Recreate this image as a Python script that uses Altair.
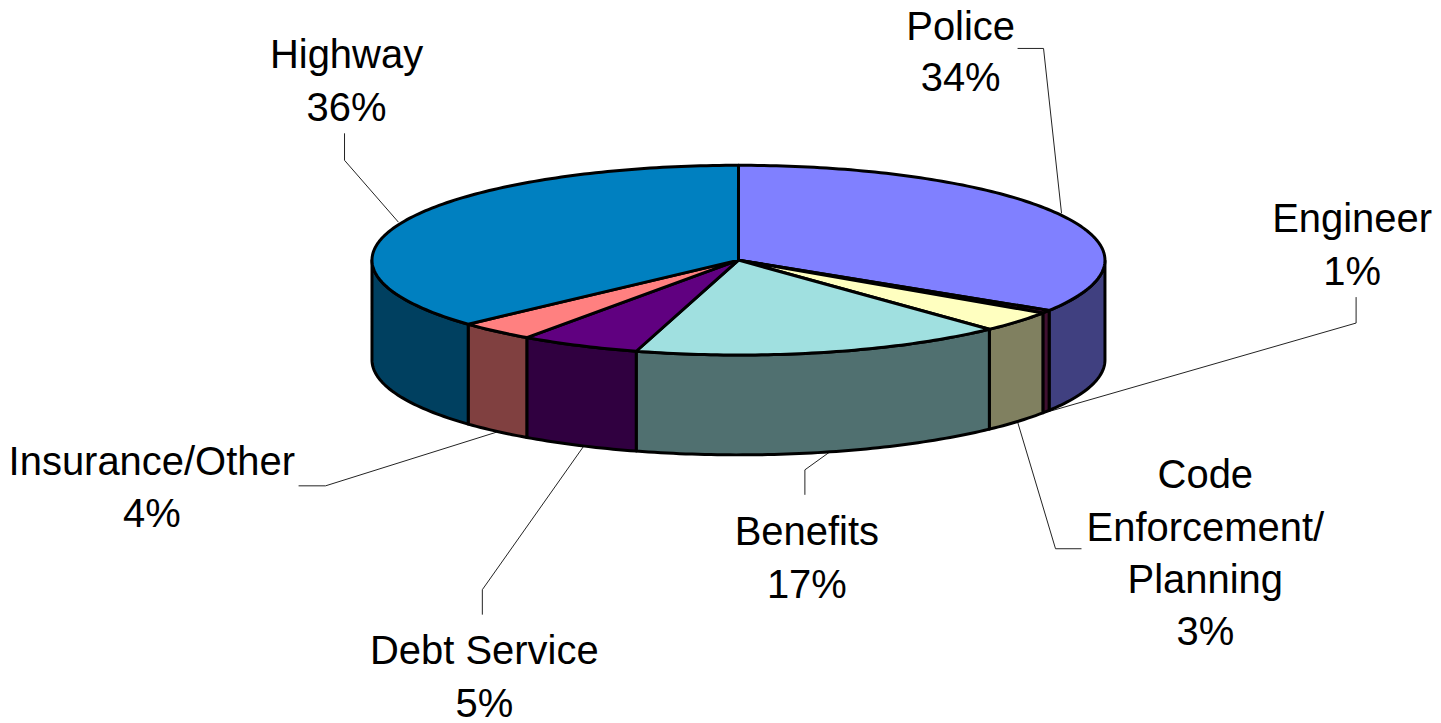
import math
import altair as alt
import pandas as pd

categories = ["Police", "Engineer", "Code Enforcement/Planning", "Benefits", "Debt Service", "Insurance/Other", "Highway"]
shares = [33.9, 0.5, 3.6, 16.5, 5.3, 3.4, 36.8]
top_colors = ["#8080ff", "#802060", "#ffffc0", "#a0e0e0", "#600080", "#ff8080", "#0080c0"]
wall_colors = ["#404080", "#401030", "#808060", "#507070", "#300040", "#804040", "#004060"]

label_lines = [
    ["Police", "34%"], ["Engineer", "1%"], ["Code", "Enforcement/", "Planning", "3%"],
    ["Benefits", "17%"], ["Debt Service", "5%"], ["Insurance/Other", "4%"], ["Highway", "36%"],
]
# Label centre x and the y of each of its lines, in picture pixels
label_x = [961, 1353, 1206, 807, 484, 151, 346]
label_y = [
    [28, 79], [220, 273], [476, 529, 581, 633],
    [533, 586], [652, 705], [463, 515], [56, 109],
]
leaders = [
    [(1062, 213), (1044, 48), (1018, 48)],
    [(1048, 412), (1357, 323), (1357, 297)],
    [(1018, 422), (1056, 549), (1082, 549)],
    [(830, 452), (805, 470), (805, 495)],
    [(583, 447), (482, 590), (482, 615)],
    [(497, 432), (325, 486), (298, 486)],
    [(398, 222), (344, 160), (344, 133)],
]

CX, CY, RX, RY, DEPTH = 738.5, 260, 367, 95, 100
W, H = 1425, 711
TOP = 12  # where the drawing surface starts on the page

x_scale = alt.Scale(domain=[8, 8 + W], range=[0, W], nice=False, zero=False)
y_scale = alt.Scale(domain=[TOP, TOP + H], range=[0, H], nice=False, zero=False)
X = alt.X("x:Q", scale=x_scale, axis=None)
Y = alt.Y("y:Q", scale=y_scale, axis=None)


def rim(angle, drop=0.0):
    a = math.radians(angle)
    return CX + RX * math.sin(a), CY - RY * math.cos(a) + drop


def arc_angles(a0, a1):
    n = max(2, int(abs(a1 - a0)) + 2)
    return [a0 + (a1 - a0) * i / (n - 1) for i in range(n)]


def shape(points, fill, sw=3):
    df = pd.DataFrame(points, columns=["x", "y"])
    df["o"] = range(len(df))
    return alt.Chart(df).mark_line(
        fill=fill, stroke="black", strokeWidth=sw, strokeJoin="round", clip=False
    ).encode(x=X, y=Y, order="o:Q")


walls, tops = [], []
start = 0.0
for share, top, wall in zip(shares, top_colors, wall_colors):
    end = start + share * 3.6
    pts = [(CX, CY)] + [rim(a) for a in arc_angles(start, end)] + [(CX, CY)]
    tops.append(shape(pts, top))
    a0, a1 = max(start, 90.0), min(end, 270.0)
    if a1 > a0:
        arc = arc_angles(a0, a1)
        pts = [rim(a) for a in arc] + [rim(a, DEPTH) for a in reversed(arc)]
        pts.append(pts[0])
        walls.append(shape(pts, wall))
    start = end

leader_layers = []
for path in leaders:
    df = pd.DataFrame(path, columns=["x", "y"])
    df["o"] = range(len(df))
    leader_layers.append(
        alt.Chart(df).mark_line(color="#222222", strokeWidth=1).encode(x=X, y=Y, order="o:Q")
    )

rows = []
for lines, lx, ys in zip(label_lines, label_x, label_y):
    for t, ly in zip(lines, ys):
        rows.append({"x": lx, "y": ly, "t": t})
text = alt.Chart(pd.DataFrame(rows)).mark_text(
    font="Liberation Sans", fontSize=40, color="black", align="center", baseline="middle"
).encode(x=X, y=Y, text="t:N")

chart = alt.layer(*leader_layers, *walls, *tops, text).properties(
    width=W, height=H, padding=0, background="white"
).configure_view(stroke=None)
chart.save("out.html", embed_options={"renderer": "svg", "actions": False})
